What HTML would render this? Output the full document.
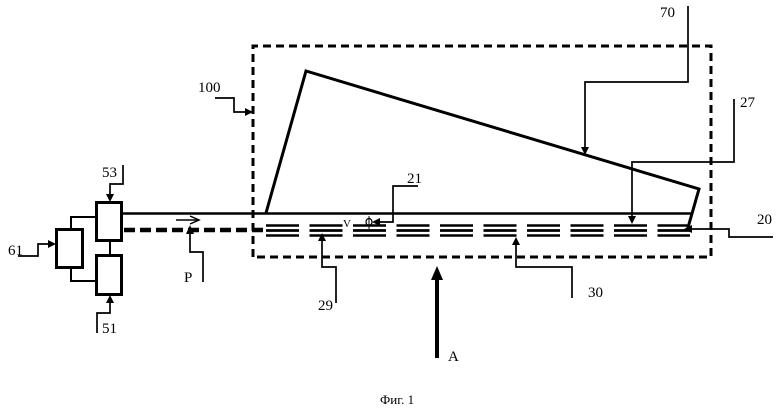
<!DOCTYPE html>
<html><head><meta charset="utf-8"><style>
html,body{margin:0;padding:0;background:#fff;}
svg{display:block;}
text{font-family:"Liberation Serif",serif;fill:#000;}
</style></head><body>
<svg width="780" height="418" viewBox="0 0 780 418" xmlns="http://www.w3.org/2000/svg">
<rect width="780" height="418" fill="#fff"/>
<!-- dashed enclosure 100 -->
<path d="M253,257 L253,46 L711,46 L711,257 Z" fill="none" stroke="#000" stroke-width="3" stroke-dasharray="8,5"/>
<!-- triangle 70 -->
<polyline points="266,213 306,71 699,189 687,231" fill="none" stroke="#000" stroke-width="3" stroke-linejoin="miter"/>
<!-- solid line -->
<line x1="122" y1="213.5" x2="691" y2="213.5" stroke="#000" stroke-width="2.5"/>
<!-- thick dashed line -->
<line x1="124" y1="230" x2="266" y2="230" stroke="#000" stroke-width="4.5" stroke-dasharray="11,5"/>
<!-- triple strips -->
<g stroke="#000" stroke-dasharray="33,10.5">
<line x1="266" y1="225.5" x2="690" y2="225.5" stroke-width="2.4"/>
<line x1="266" y1="230.5" x2="690" y2="230.5" stroke-width="2.8"/>
<line x1="266" y1="235.5" x2="690" y2="235.5" stroke-width="2.4"/>
</g>
<!-- boxes -->
<g fill="#fff" stroke="#000" stroke-width="3">
<rect x="96.5" y="202.5" width="25" height="38"/>
<rect x="96.5" y="255.5" width="25" height="39"/>
<rect x="56.5" y="229.5" width="26" height="38"/>
</g>
<g fill="none" stroke="#000" stroke-width="2">
<line x1="110" y1="241" x2="110" y2="255"/>
<polyline points="71,229 71,217 96,217"/>
<polyline points="71,268 71,281 96,281"/>
</g>
<!-- leaders -->
<g fill="none" stroke="#000" stroke-width="1.7">
<polyline points="123,165 123,184 110,184 110,196"/>
<polyline points="18,256 38,256 38,244 50,244"/>
<polyline points="97,333 97,313 110,313 110,301"/>
<polyline points="203,282 203,252 190,252 190,232"/>
<polyline points="215,98 234,98 234,112 247,112"/>
<polyline points="688,6 688,82 585,82 585,149"/>
<polyline points="734,99 734,162 632,162 632,218"/>
<polyline points="773,237 729,237 729,229 691,229"/>
<polyline points="572,298 572,267 516,267 516,243"/>
<polyline points="336,303 336,267 322,267 322,239"/>
<polyline points="418,186 393,186 393,222 379,222"/>
</g>
<!-- arrowheads -->
<g fill="#000">
<polygon points="110,202 106,194 114,194"/>
<polygon points="56,244 48,240 48,248"/>
<polygon points="110,295 106,303 114,303"/>
<polygon points="190,225 186,234 194,234"/>
<polygon points="253,112 245,108 245,116"/>
<polygon points="585,155 581,147 589,147"/>
<polygon points="632,224 628,216 636,216"/>
<polygon points="684,229 692,225 692,233"/>
<polygon points="516,237 512,245 520,245"/>
<polygon points="322,233 318,241 326,241"/>
<polygon points="372,222 380,218 380,226"/>
<polygon points="437,266 431,280 443,280"/>
</g>
<!-- small mark at 21 -->
<ellipse cx="369" cy="222" rx="3" ry="3.5" fill="none" stroke="#000" stroke-width="1.2"/>
<line x1="369" y1="216" x2="369" y2="229" stroke="#000" stroke-width="1"/>
<!-- P open arrow -->
<g fill="none" stroke="#000" stroke-width="1.5">
<line x1="176" y1="220" x2="199" y2="220"/>
<polyline points="190,216 199,220 190,224"/>
</g>
<!-- big arrow A -->
<line x1="437" y1="358" x2="437" y2="278" stroke="#000" stroke-width="4"/>
<!-- labels -->
<g font-size="15">
<text x="102" y="177">53</text>
<text x="8" y="255">61</text>
<text x="102" y="333">51</text>
<text x="184" y="282">P</text>
<text x="198" y="92">100</text>
<text x="660" y="17">70</text>
<text x="740" y="107">27</text>
<text x="757" y="224">20</text>
<text x="588" y="297">30</text>
<text x="318" y="310">29</text>
<text x="407" y="183">21</text>
<text x="448" y="361">A</text>
</g>
<text x="343" y="227" font-size="11">V</text>
<text x="380" y="404" font-size="13" style="font-family:'Liberation Serif','DejaVu Serif',serif">Фиг. 1</text>
</svg>
</body></html>
